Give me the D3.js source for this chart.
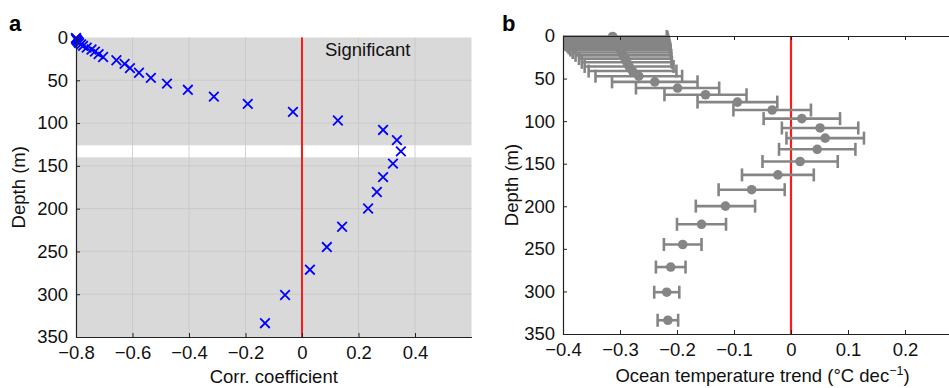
<!DOCTYPE html>
<html lang="en">
<head>
<meta charset="UTF-8">
<script src="https://d3js.org/d3.v7.min.js"></script>
<style>
  body { margin: 0; background: #fff; }
  text { font-family: "Liberation Sans", Arial, Helvetica, sans-serif; }
</style>
</head>
<body>
<div id="chart"></div>
<script>
// model depth levels (m)
const depths = [0.51, 1.56, 2.67, 3.86, 5.14, 6.54, 8.09, 9.82, 11.77, 13.99, 16.53, 19.43,
  22.76, 26.56, 30.87, 35.74, 41.18, 47.21, 53.85, 61.11, 69.02, 77.61, 86.93, 97.04,
  108.03, 120.0, 133.08, 147.41, 163.16, 180.55, 199.79, 221.14, 244.89, 271.36, 300.89, 333.86];

// panel a: correlation coefficient at each depth
const corrValues = [-0.80, -0.80, -0.798, -0.795, -0.792, -0.789, -0.782, -0.775, -0.762, -0.745,
  -0.733, -0.72, -0.704, -0.657, -0.628, -0.609, -0.577, -0.535, -0.478, -0.404, -0.312, -0.192,
  -0.032, 0.127, 0.287, 0.336, 0.350, 0.322, 0.287, 0.265, 0.234, 0.142, 0.088, 0.028, -0.060, -0.131];

// depth ranges where the correlation is significant (grey)
const sigBands = [[0, 126], [140, 350]];

// panel b: temperature trend and its error
const trendValues = [-0.313, -0.312, -0.311, -0.310, -0.309, -0.308, -0.306, -0.305, -0.303, -0.301,
  -0.299, -0.297, -0.294, -0.291, -0.288, -0.284, -0.278, -0.267, -0.239, -0.199, -0.150, -0.094,
  -0.033, 0.019, 0.051, 0.060, 0.046, 0.016, -0.023, -0.069, -0.115, -0.157, -0.190, -0.211, -0.218, -0.216];
const trendErrors = [0.095, 0.095, 0.094, 0.094, 0.093, 0.093, 0.092, 0.091, 0.090, 0.089,
  0.088, 0.086, 0.084, 0.081, 0.079, 0.078, 0.077, 0.076, 0.075, 0.073, 0.072, 0.070,
  0.068, 0.067, 0.067, 0.068, 0.067, 0.066, 0.063, 0.058, 0.052, 0.043, 0.033, 0.026, 0.022, 0.018];

const corrTicks = [-0.8, -0.6, -0.4, -0.2, 0, 0.2, 0.4];
const trendTicks = [-0.4, -0.3, -0.2, -0.1, 0, 0.1, 0.2];
const depthTicks = [0, 50, 100, 150, 200, 250, 300, 350];

const W = 949, H = 388;
const fs = 18.5;
const fmt = d => d === 0 ? "0" : d3.format(".1f")(d).replace("-", "\u2013");

const svg = d3.select("#chart").append("svg")
  .attr("width", W).attr("height", H);

svg.append("defs").append("clipPath").attr("id", "clipB")
  .append("rect").attr("x", 563).attr("y", 0).attr("width", 400).attr("height", 340);

// ---------- panel a ----------
const xa = d3.scaleLinear().domain([-0.8, 0.6]).range([76, 471.5]);
const ya = d3.scaleLinear().domain([0, 350]).range([37.5, 337]);

const ga = svg.append("g");

ga.selectAll("rect.band").data(sigBands).enter().append("rect")
  .attr("class", "band")
  .attr("x", xa(-0.8)).attr("width", xa(0.6) - xa(-0.8))
  .attr("y", d => ya(d[0])).attr("height", d => ya(d[1]) - ya(d[0]))
  .attr("fill", "#d9d9d9");

// grid
ga.append("g").selectAll("line").data(corrTicks.slice(1)).enter().append("line")
  .attr("x1", d => xa(d)).attr("x2", d => xa(d))
  .attr("y1", ya(0)).attr("y2", ya(350))
  .attr("stroke", "#c6c6c6").attr("stroke-width", 0.8);
ga.append("g").selectAll("line").data(depthTicks.slice(1, -1)).enter().append("line")
  .attr("x1", xa(-0.8)).attr("x2", xa(0.6))
  .attr("y1", d => ya(d)).attr("y2", d => ya(d))
  .attr("stroke", "#c6c6c6").attr("stroke-width", 0.8);

// zero line
ga.append("line")
  .attr("x1", xa(0)).attr("x2", xa(0)).attr("y1", ya(0)).attr("y2", ya(350))
  .attr("stroke", "#ff1a1a").attr("stroke-width", 2);

// crosses
const cs = 4.8;
ga.append("g").selectAll("path").data(depths).enter().append("path")
  .attr("d", (d, i) => {
    const x = xa(corrValues[i]), y = ya(d);
    return `M${x - cs},${y - cs}L${x + cs},${y + cs}M${x - cs},${y + cs}L${x + cs},${y - cs}`;
  })
  .attr("stroke", "#0000ff").attr("stroke-width", 1.8).attr("fill", "none");

ga.append("text").attr("x", 325).attr("y", 56)
  .attr("font-size", fs).attr("fill", "#111").text("Significant");

// axes a
const axA = ga.append("g").attr("transform", `translate(0,${ya(350)})`)
  .call(d3.axisBottom(xa).tickValues(corrTicks).tickSizeInner(-4).tickSizeOuter(0).tickPadding(9).tickFormat(fmt));
const ayA = ga.append("g").attr("transform", `translate(${xa(-0.8)},0)`)
  .call(d3.axisLeft(ya).tickValues(depthTicks).tickSizeInner(-4).tickSizeOuter(0).tickPadding(8));
[axA, ayA].forEach(a => {
  a.selectAll("text").attr("font-size", fs).attr("fill", "#111")
    .style("font-family", "'Liberation Sans', Arial, sans-serif");
  a.select(".domain").attr("stroke", "#222").attr("stroke-width", 1.2);
  a.selectAll(".tick line").attr("stroke", "#222");
});
axA.selectAll("text").attr("dy", "0.71em").attr("y", 9);

ga.append("text").attr("x", (xa(-0.8) + xa(0.6)) / 2).attr("y", 383)
  .attr("text-anchor", "middle").attr("font-size", fs).attr("fill", "#111")
  .text("Corr. coefficient");
ga.append("text").attr("transform", `translate(25,${(ya(0) + ya(350)) / 2}) rotate(-90)`)
  .attr("text-anchor", "middle").attr("font-size", fs).attr("fill", "#111")
  .text("Depth (m)");
ga.append("text").attr("x", 9).attr("y", 31)
  .attr("font-size", 22).attr("font-weight", "bold").text("a");

// ---------- panel b ----------
const xb = d3.scaleLinear().domain([-0.4, 0.3]).range([563, 962]);
const yb = d3.scaleLinear().domain([0, 350]).range([36, 334]);

const gb = svg.append("g");

gb.append("line")
  .attr("x1", xb(0)).attr("x2", xb(0)).attr("y1", yb(0)).attr("y2", yb(350))
  .attr("stroke", "#ff1a1a").attr("stroke-width", 2.2);

const eb = gb.append("g").attr("clip-path", "url(#clipB)");
const grey = "#858585";
const capH = 6.5;
const rows = eb.selectAll("g.row").data(depths).enter().append("g").attr("class", "row");
rows.append("line")
  .attr("x1", (d, i) => xb(trendValues[i] - trendErrors[i]))
  .attr("x2", (d, i) => xb(trendValues[i] + trendErrors[i]))
  .attr("y1", d => yb(d)).attr("y2", d => yb(d))
  .attr("stroke", grey).attr("stroke-width", 2.6);
rows.append("line")
  .attr("x1", (d, i) => xb(trendValues[i] - trendErrors[i]))
  .attr("x2", (d, i) => xb(trendValues[i] - trendErrors[i]))
  .attr("y1", d => yb(d) - capH).attr("y2", d => yb(d) + capH)
  .attr("stroke", grey).attr("stroke-width", 2.6);
rows.append("line")
  .attr("x1", (d, i) => xb(trendValues[i] + trendErrors[i]))
  .attr("x2", (d, i) => xb(trendValues[i] + trendErrors[i]))
  .attr("y1", d => yb(d) - capH).attr("y2", d => yb(d) + capH)
  .attr("stroke", grey).attr("stroke-width", 2.6);
eb.selectAll("circle").data(depths).enter().append("circle")
  .attr("cx", (d, i) => xb(trendValues[i])).attr("cy", d => yb(d))
  .attr("r", 4.8).attr("fill", grey);

// axes b
const axB = gb.append("g").attr("transform", `translate(0,${yb(350)})`)
  .call(d3.axisBottom(xb).tickValues(trendTicks).tickSizeInner(-4).tickSizeOuter(0).tickPadding(9).tickFormat(fmt));
const axBt = gb.append("g").attr("transform", `translate(0,${yb(0)})`)
  .call(d3.axisTop(xb).tickValues(trendTicks).tickSizeInner(-4).tickSizeOuter(0).tickFormat(""));
const ayB = gb.append("g").attr("transform", `translate(${xb(-0.4)},0)`)
  .call(d3.axisLeft(yb).tickValues(depthTicks).tickSizeInner(-4).tickSizeOuter(0).tickPadding(8));
[axB, axBt, ayB].forEach(a => {
  a.selectAll("text").attr("font-size", fs).attr("fill", "#111")
    .style("font-family", "'Liberation Sans', Arial, sans-serif");
  a.select(".domain").attr("stroke", "#222").attr("stroke-width", 1.2);
  a.selectAll(".tick line").attr("stroke", "#222");
});
axB.selectAll("text").attr("dy", "0.71em").attr("y", 9);

const tb = gb.append("text").attr("x", (xb(-0.4) + xb(0.3)) / 2).attr("y", 382)
  .attr("text-anchor", "middle").attr("font-size", fs).attr("fill", "#111");
tb.append("tspan").text("Ocean temperature trend (\u00b0C dec");
tb.append("tspan").attr("dy", -7).attr("font-size", 12.5).text("\u22121");
tb.append("tspan").attr("dy", 7).text(")");
gb.append("text").attr("transform", `translate(518,${(yb(0) + yb(350)) / 2}) rotate(-90)`)
  .attr("text-anchor", "middle").attr("font-size", fs).attr("fill", "#111")
  .text("Depth (m)");
gb.append("text").attr("x", 502).attr("y", 31)
  .attr("font-size", 22).attr("font-weight", "bold").text("b");
</script>
</body>
</html>
